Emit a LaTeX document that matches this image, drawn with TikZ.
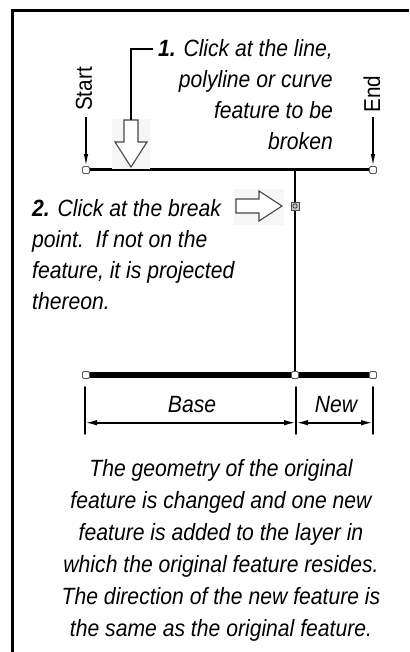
\documentclass[tikz,border=0pt]{standalone}
\usepackage{fontspec}
\setmainfont{Liberation Sans}[FakeStretch=0.9]
\usepackage{tikz}
\usepackage{tkz-euclide}
\usetikzlibrary{calc}
\usetikzlibrary{arrows.meta}

\tikzset{
    vtx/.style={draw=gray!70!black, fill=white, line width=0.8pt, minimum size=7pt, inner sep=0pt, rounded corners=1.2pt},
    brk/.style={draw=gray!60!black, fill=gray!45, line width=0.6pt, minimum size=8pt, inner sep=0pt},
    hollow/.style={draw=gray!55!black, fill=white, line width=1.1pt, line join=miter},
    note/.style={font=\fontsize{23.5}{31}\selectfont\itshape, inner sep=0pt},
    dimtip/.style={{Latex[length=12pt,width=5.5pt]}-{Latex[length=12pt,width=5.5pt]}}
}

\begin{document}
\begin{tikzpicture}[x=1pt,y=1pt]
                    \useasboundingbox (0,0) rectangle (409,-652);

                    \tkzDefPoint(12,-652){K1}
                    \tkzDefPoint(12,-11){K2}
                    \tkzDefPoint(409,-11){K3}
                    \draw[line width=3pt] (K1) -- (K2) -- (K3);

                    \tkzDefPoint(86,-170){S}
                    \tkzDefPoint(373,-170){E}
                    \tkzDefPoint(295,-170){J}
                    \tkzDefPoint(295,-206){P}
                    \tkzDefPoint(86,-375){S1}
                    \tkzDefPoint(295,-375){P1}
                    \tkzDefPoint(373,-375){E1}
                    \tkzDrawSegment[line width=3pt](S,E)
                    \tkzDrawSegment[line width=2pt](J,P1)
                    \tkzDrawSegment[line width=5.5pt](S1,E1)

                    \node[vtx] (vs) at (S) {};
                    \node[vtx] (ve) at (E) {};
                    \node[vtx] (vs1) at (S1) {};
                    \node[vtx] (vp1) at (P1) {};
                    \node[vtx] (ve1) at (E1) {};
                    \node[brk] (vp) at (P) {};
                    \draw[gray!30!black, line width=0.6pt] (vp.center) circle (2.2pt);

                    \node[rotate=90, font=\fontsize{23}{25}\selectfont, inner sep=0pt] (lstart) at (84,-89) {Start};
                    \node[rotate=90, font=\fontsize{23}{25}\selectfont, inner sep=0pt] (lend) at (372,-94) {End};
                    \tkzDefPoint(86,-117){SA}
                    \tkzDefPoint(373,-117){EA}
                    \draw[line width=1.4pt, -{Latex[length=12pt,width=4.5pt]}] (SA) -- (vs.north);
                    \draw[line width=1.4pt, -{Latex[length=12pt,width=4.5pt]}] (EA) -- (ve.north);

                    \fill[gray!7] (112,-119) rectangle (150,-169);
                    \tkzDefPoint(124,-120){D1}
                    \tkzDefPoint(138,-120){D2}
                    \tkzDefPoint(138,-142){D3}
                    \tkzDefPoint(147,-142){D4}
                    \tkzDefPoint(131,-167){D5}
                    \tkzDefPoint(115,-142){D6}
                    \tkzDefPoint(124,-142){D7}
                    \tkzDrawPolygon[hollow](D1,D2,D3,D4,D5,D6,D7)

                    \fill[gray!7] (234,-189) rectangle (284,-225);
                    \tkzDefPoint(236,-199){R1}
                    \tkzDefPoint(259,-199){R2}
                    \tkzDefPoint(259,-191){R3}
                    \tkzDefPoint(282,-206){R4}
                    \tkzDefPoint(259,-221){R5}
                    \tkzDefPoint(259,-213){R6}
                    \tkzDefPoint(236,-213){R7}
                    \tkzDrawPolygon[hollow](R1,R2,R3,R4,R5,R6,R7)

                    \node[note, align=right, anchor=north east] (step1) at (333,-39)
                        {\textbf{1.} Click at the line,\\polyline or curve\\feature to be\\broken};
                    \tkzDefPoint(131,-49){L1}
                    \tkzDefPoint(153,-49){L2}
                    \draw[line width=1.2pt] (D1) ++(7,0) coordinate (L0) -- (L1) -- (L2);

                    \node[note, align=left, anchor=north west] (step2) at (32,-199)
                        {\textbf{2.} Click at the break\\point.\ \ If not on the\\feature, it is projected\\thereon.};

                    \tkzDefPoint(85,-387){X1}
                    \tkzDefPoint(85,-434){X2}
                    \tkzDefPoint(296,-387){Y1}
                    \tkzDefPoint(296,-434){Y2}
                    \tkzDefPoint(373,-387){Z1}
                    \tkzDefPoint(373,-434){Z2}
                    \tkzDrawSegments[line width=1.8pt](X1,X2 Y1,Y2 Z1,Z2)
                    \draw[line width=1.8pt, dimtip] ($(X1)!0.76!(X2)$) -- ($(Y1)!0.76!(Y2)$);
                    \draw[line width=1.8pt, dimtip] ($(Y1)!0.76!(Y2)$) -- ($(Z1)!0.76!(Z2)$);
                    \node[note] (base) at (192,-405) {Base};
                    \node[note] (new) at (336,-405) {New};

                    \node[note, align=center, font=\fontsize{23.5}{32}\selectfont\itshape] (result) at (221,-550)
                        {The geometry of the original\\feature is changed and one new\\feature is added to the layer in\\which the original feature resides.\\The direction of the new feature is\\the same as the original feature.};
                \end{tikzpicture}
\end{document}
